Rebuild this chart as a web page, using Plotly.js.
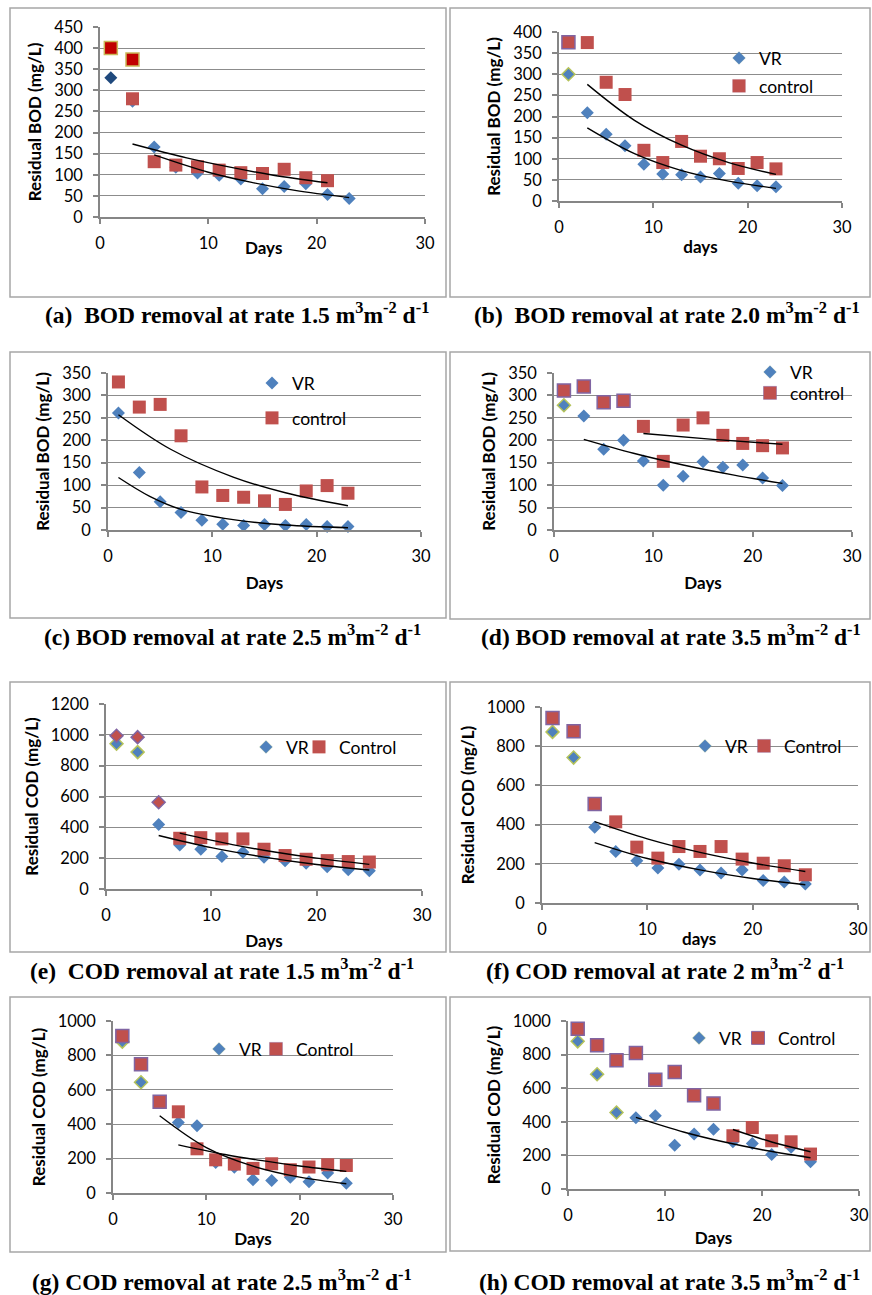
<!DOCTYPE html>
<html><head><meta charset="utf-8">
<script src="https://cdn.plot.ly/plotly-3.0.1.min.js"></script>
<style>html,body{margin:0;padding:0;background:#fff}#chart{width:872px;height:1295px}</style>
</head><body><div id="chart"></div><script>
// ---------- data ----------
const bodDays = [1,3,5,7,9,11,13,15,17,19,21,23];
const codDays = [1,3,5,7,9,11,13,15,17,19,21,23,25];

// (a) BOD 1.5
const vrA = [330,274,166,118,104,99,90,67,72,79,53,44];
const ctlDaysA = [1,3,5,7,9,11,13,15,17,19,21];
const ctlA = [400,373,131,123,119,111,105,103,113,93,86];
const extraDaysA = [3];
const extraA = [280];
const tVrDaysA = [5,10,14,18,23];
const tVrA = [147,106,82,63,46];
const tCtlDaysA = [3,8,12,16,21];
const tCtlA = [173,140,118,99,81];

// (b) BOD 2.0
const vrB = [300,209,158,131,87,64,62,57,65,42,36,34];
const ctlB = [376,375,281,252,120,91,141,106,100,77,91,76];
const tVrDaysB = [3,8,13,18,23];
const tVrB = [173,112,72,47,30];
const tCtlDaysB = [3,8,13,18,23];
const tCtlB = [276,191,132,91,63];

// (c) BOD 2.5
const vrC = [261,128,63,39,22,13,10,12,10,12,8,8];
const ctlC = [330,274,280,210,96,77,73,65,57,87,99,82];
const tVrDaysC = [1,4,7,12,17,23];
const tVrC = [117,75,46,23,11,5];
const tCtlDaysC = [1,6,12,17,23];
const tCtlC = [257,180,118,83,54];

// (d) BOD 3.5
const vrD = [278,254,180,200,154,100,120,152,140,145,116,99];
const ctlD = [311,320,285,288,231,153,234,250,211,193,188,183];
const tVrDaysD = [3,8,13,18,23];
const tVrD = [202,171,145,123,104];
const tCtlDaysD = [9,16,23];
const tCtlD = [215,202,191];

// (e) COD 1.5
const vrE = [942,888,418,286,258,210,238,206,184,167,145,125,119];
const ctlE = [994,985,563,329,333,325,325,258,217,193,184,178,175];
const tVrDaysE = [5,10,15,20,25];
const tVrE = [347,268,207,159,123];
const tCtlDaysE = [7,12,16,20,25];
const tCtlE = [362,288,240,200,160];

// (f) COD 2
const vrF = [873,742,386,263,215,178,198,169,153,169,115,107,97];
const ctlF = [944,876,505,414,285,229,288,263,288,224,203,190,144];
const tVrDaysF = [5,10,15,20,25];
const tVrF = [308,227,169,125,93];
const tCtlDaysF = [5,10,15,20,25];
const tCtlF = [415,327,258,204,161];

// (g) COD 2.5
const vrG = [880,644,530,410,391,178,149,77,72,91,66,116,56];
const ctlG = [913,749,530,472,257,193,168,143,170,135,151,164,160];
const tVrDaysG = [5,10,15,20,25];
const tVrG = [449,264,156,92,54];
const tCtlDaysG = [7,12,16,20,25];
const tCtlG = [280,224,188,157,126];

// (h) COD 3.5
const vrH = [879,683,455,424,436,261,327,356,281,271,206,248,162];
const ctlH = [954,855,766,810,651,697,558,509,317,366,287,281,208];
const tVrDaysH = [7,12,16,20,25];
const tVrH = [426,338,281,234,186];
const tCtlDaysH = [17,21,25];
const tCtlH = [354,280,222];

const xTicks = [0,10,20,30];
const captions = [
  "(a)  BOD removal at rate 1.5 m<sup>3</sup>m<sup>-2</sup> d<sup>-1</sup>",
  "(b)  BOD removal at rate 2.0 m<sup>3</sup>m<sup>-2</sup> d<sup>-1</sup>",
  "(c) BOD removal at rate 2.5 m<sup>3</sup>m<sup>-2</sup> d<sup>-1</sup>",
  "(d) BOD removal at rate 3.5 m<sup>3</sup>m<sup>-2</sup> d<sup>-1</sup>",
  "(e)  COD removal at rate 1.5 m<sup>3</sup>m<sup>-2</sup> d<sup>-1</sup>",
  "(f) COD removal at rate 2 m<sup>3</sup>m<sup>-2</sup> d<sup>-1</sup>",
  "(g) COD removal at rate 2.5 m<sup>3</sup>m<sup>-2</sup> d<sup>-1</sup>",
  "(h) COD removal at rate 3.5 m<sup>3</sup>m<sup>-2</sup> d<sup>-1</sup>"
];

// ---------- layout helpers ----------
const W = 872, H = 1295;
const fx = p => p / W;
const fy = p => 1 - p / H;
const BLUE = '#4F81BD', RED = '#C0504D', GRID = '#8C8C8C', AX = '#868686';
const TICKFONT = {family:'Lato, "Open Sans", sans-serif', size:16.5, color:'#000'};
const TITLEFONT = {family:'Lato, "Open Sans", sans-serif', size:17, color:'#000', weight:'bold'};
const LEGFONT = {family:'Lato, "Open Sans", sans-serif', size:17.5, color:'#000'};

const panels = [
 {plot:[100,27,425,217], box:[10,8,446,297], ymax:450, dtick:50, yt:'Residual BOD (mg/L)', xt:'Days', xtAnn:[263,247],
  vrD:bodDays, vr:vrA, ctlD:ctlDaysA, ctl:ctlA, tv:[tVrDaysA,tVrA], tc:[tCtlDaysA,tCtlA], cap:[237,313], leg:null, names:['VR','control']},
 {plot:[559,32,842,201], box:[450,8,870,297], ymax:400, dtick:50, yt:'Residual BOD (mg/L)', xt:'days', xts:6,
  vrD:bodDays, vr:vrB, ctlD:bodDays, ctl:ctlB, tv:[tVrDaysB,tVrB], tc:[tCtlDaysB,tCtlB], cap:[667,313],
  leg:[[739,58],[739,86]], names:['VR','control'], hiV:1, hiC:1},
 {plot:[108,373,421,530], box:[10,352,446,618], ymax:350, dtick:50, yt:'Residual BOD (mg/L)', xt:'Days', xts:13,
  vrD:bodDays, vr:vrC, ctlD:bodDays, ctl:ctlC, tv:[tVrDaysC,tVrC], tc:[tCtlDaysC,tCtlC], cap:[232,635],
  leg:[[272,383],[272,418]], names:['VR','control']},
 {plot:[554,373,852,530], box:[450,352,870,619], ymax:350, dtick:50, yt:'Residual BOD (mg/L)', xt:'Days', xts:13,
  vrD:bodDays, vr:vrD, ctlD:bodDays, ctl:ctlD, tv:[tVrDaysD,tVrD], tc:[tCtlDaysD,tCtlD], cap:[671,635],
  leg:[[770,372],[770,393]], names:['VR','control'], hiV:1, hiC:4},
 {plot:[106,704,422,889], box:[10,682,446,952], ymax:1200, dtick:200, yt:'Residual COD (mg/L)', xt:'Days', xts:12,
  vrD:codDays, vr:vrE, ctlD:codDays, ctl:ctlE, tv:[tVrDaysE,tVrE], tc:[tCtlDaysE,tCtlE], cap:[222,969],
  leg:[[266,747],[319,747]], names:['VR','Control'], hiV:2, diaC:3},
 {plot:[542,707,858,903], box:[450,682,870,952], ymax:1000, dtick:200, yt:'Residual COD (mg/L)', xt:'days', xtAnn:[699,938],
  vrD:codDays, vr:vrF, ctlD:codDays, ctl:ctlF, tv:[tVrDaysF,tVrF], tc:[tCtlDaysF,tCtlF], cap:[665,969],
  leg:[[705,746],[764,746]], names:['VR','Control'], hiV:2, hiC:3},
 {plot:[113,1021,393,1193], box:[10,997,446,1252], ymax:1000, dtick:200, yt:'Residual COD (mg/L)', xt:'Days', xts:6,
  vrD:codDays, vr:vrG, ctlD:codDays, ctl:ctlG, tv:[tVrDaysG,tVrG], tc:[tCtlDaysG,tCtlG], cap:[222,1280],
  leg:[[219,1049],[276,1049]], names:['VR','Control'], hiV:2, hiC:3},
 {plot:[568,1021,859,1189], box:[450,997,870,1251], ymax:1000, dtick:200, yt:'Residual COD (mg/L)', xt:'Days', xts:9,
  vrD:codDays, vr:vrH, ctlD:codDays, ctl:ctlH, tv:[tVrDaysH,tVrH], tc:[tCtlDaysH,tCtlH], cap:[669,1280],
  leg:[[699,1038],[758,1038]], names:['VR','Control'], hiV:3, hiC:8}
];

const traces = [];
const layout = {
  width: W, height: H, margin:{l:0,r:0,t:0,b:0}, paper_bgcolor:'#fff', plot_bgcolor:'rgba(0,0,0,0)',
  showlegend:true, shapes:[], annotations:[], font:{family:'Lato, sans-serif', color:'#000'}
};

let legCount = 0;
function newLegend(pos) {
  legCount++;
  const id = legCount === 1 ? 'legend' : 'legend' + legCount;
  layout[id] = {bgcolor:'rgba(0,0,0,0)', borderwidth:0, font:LEGFONT, itemclick:false, itemdoubleclick:false,
    xref:'paper', yref:'paper', x:fx(pos[0] - 20), xanchor:'left', y:fy(pos[1]), yanchor:'middle', orientation:'v'};
  return id;
}

panels.forEach((p, i) => {
  const n = i + 1;
  const xa = n === 1 ? 'x' : 'x' + n, ya = n === 1 ? 'y' : 'y' + n;
  const xk = n === 1 ? 'xaxis' : 'xaxis' + n, yk = n === 1 ? 'yaxis' : 'yaxis' + n;
  const legV = p.leg ? newLegend(p.leg[0]) : null;
  const legC = p.leg ? newLegend(p.leg[1]) : null;

  layout[xk] = {
    domain:[fx(p.plot[0]), fx(p.plot[2])], anchor: ya, range:[0,30], tickvals:xTicks, ticktext:xTicks.map(String),
    showgrid:false, zeroline:false, showline:true, linecolor:AX, linewidth:1.5,
    ticks:'outside', ticklen:5, tickcolor:AX, tickwidth:1.5, tickfont:TICKFONT, ticklabelstandoff:5,
    fixedrange:true, automargin:false
  };
  if (!p.xtAnn) layout[xk].title = {text:p.xt, font:TITLEFONT, standoff:p.xts};
  layout[yk] = {
    domain:[fy(p.plot[3]), fy(p.plot[1])], anchor: xa, range:[0,p.ymax], dtick:p.dtick, tick0:0,
    showgrid:true, gridcolor:GRID, gridwidth:1.3, zeroline:false, showline:true, linecolor:AX, linewidth:1.5,
    ticks:'outside', ticklen:5, tickcolor:AX, tickwidth:1.5, tickfont:TICKFONT, ticklabelstandoff:7,
    fixedrange:true, automargin:false,
    title:{text:p.yt, font:TITLEFONT, standoff:8}
  };
  if (p.xtAnn) {
    layout.annotations.push({xref:'paper', yref:'paper', x:fx(p.xtAnn[0]), y:fy(p.xtAnn[1]), text:p.xt,
      showarrow:false, xanchor:'center', yanchor:'middle', font:TITLEFONT});
  }

  // VR diamonds
  const vrColors = p.vr.map((v, k) => (n === 1 && k === 0) ? '#1F497D' : BLUE);
  const vrLine = p.vr.map((v, k) => k < (p.hiV || 0) ? '#B5C35A' : BLUE);
  const vrLW = p.vr.map((v, k) => k < (p.hiV || 0) ? 1.5 : 0);
  traces.push({type:'scatter', mode:'markers', x:p.vrD, y:p.vr, xaxis:xa, yaxis:ya, name:p.names[0],
    marker:{symbol:'diamond', size:10, opacity:1, color:vrColors, line:{color:vrLine, width:vrLW}},
    showlegend: !!legV, legend: legV || 'legend', cliponaxis:false, hoverinfo:'x+y'});

  // Control: optional leading diamonds (panel e) drawn as their own trace
  const nd = p.diaC || 0;
  if (nd > 0) {
    traces.push({type:'scatter', mode:'markers', x:p.ctlD.slice(0, nd), y:p.ctl.slice(0, nd), xaxis:xa, yaxis:ya,
      name:p.names[1], marker:{symbol:'diamond', size:10, opacity:1, color:RED, line:{color:'#8064A2', width:1.5}},
      showlegend:false, cliponaxis:false, hoverinfo:'x+y'});
  }
  const cD = p.ctlD.slice(nd), cV = p.ctl.slice(nd);
  const ctlColors = cV.map((v, k) => (n === 1 && k < 2) ? '#C00000' : RED);
  const ctlLine = cV.map((v, k) => (n === 1 && k < 2) ? '#C9B85A' : (k < (p.hiC || 0) ? '#8064A2' : RED));
  const ctlLW = cV.map((v, k) => ((n === 1 && k < 2) || k < (p.hiC || 0)) ? 1.5 : 0);
  traces.push({type:'scatter', mode:'markers', x:cD, y:cV, xaxis:xa, yaxis:ya, name:p.names[1],
    marker:{symbol:'square', size:13, opacity:1, color:ctlColors, line:{color:ctlLine, width:ctlLW}},
    showlegend: !!legC, legend: legC || 'legend', cliponaxis:false, hoverinfo:'x+y'});

  if (n === 1) {
    traces.push({type:'scatter', mode:'markers', x:extraDaysA, y:extraA, xaxis:xa, yaxis:ya, name:'control',
      marker:{symbol:'square', size:13, opacity:1, color:RED}, showlegend:false, cliponaxis:false});
  }

  // trend lines
  [p.tv, p.tc].forEach(t => {
    traces.push({type:'scatter', mode:'lines', x:t[0], y:t[1], xaxis:xa, yaxis:ya, showlegend:false,
      line:{color:'#000', width:1.4, shape:'spline', smoothing:1}, hoverinfo:'skip'});
  });

  // panel frame
  layout.shapes.push({type:'rect', xref:'paper', yref:'paper', x0:fx(p.box[0]), x1:fx(p.box[2]),
    y0:fy(p.box[3]), y1:fy(p.box[1]), line:{color:'#A6A6A6', width:1.5}, layer:'below'});

  // caption
  layout.annotations.push({xref:'paper', yref:'paper', x:fx(p.cap[0]), y:fy(p.cap[1]), text:captions[i],
    showarrow:false, xanchor:'center', yanchor:'middle',
    font:{family:'"Liberation Serif", "Times New Roman", serif', size:23.5, color:'#000', weight:'bold'}});
});

Plotly.newPlot('chart', traces, layout, {displayModeBar:false, responsive:false});
</script></body></html>
